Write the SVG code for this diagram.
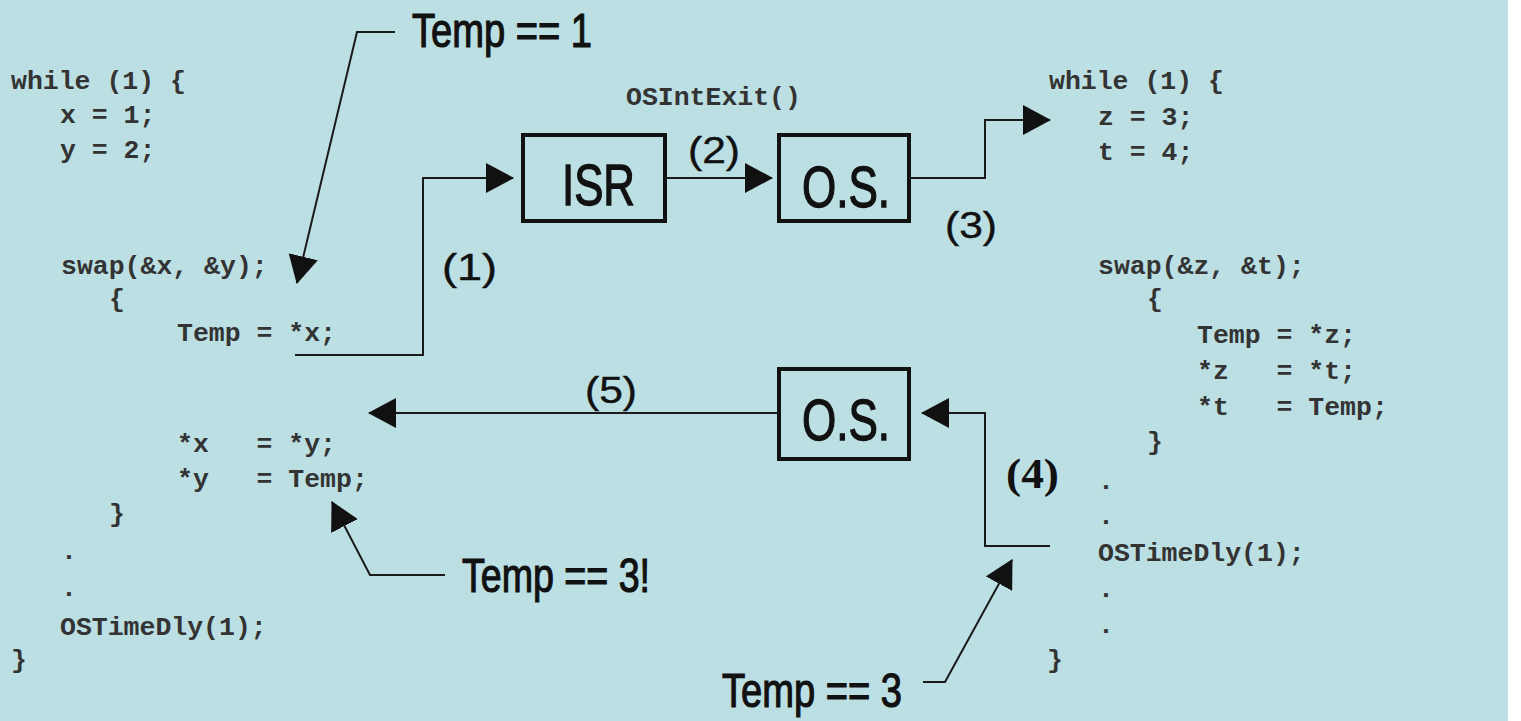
<svg xmlns="http://www.w3.org/2000/svg" width="1521" height="721" viewBox="0 0 1521 721" xml:space="preserve">
<style>
.code{font-family:"Liberation Mono","Courier New",monospace;font-size:26.5px;font-weight:bold;fill:#333333;white-space:pre}
.big{font-family:"Liberation Sans",Arial,sans-serif;font-size:48px;fill:#111;stroke:#111;stroke-width:1.2}
.box{fill:none;stroke:#111;stroke-width:4}
.lbl{font-family:"Liberation Sans",Arial,sans-serif;font-size:58px;fill:#111;stroke:#111;stroke-width:1.4}
.num{font-family:"Liberation Sans",Arial,sans-serif;font-size:37px;fill:#111;stroke:#111;stroke-width:0.4}
.conn{fill:none;stroke:#1a1a1a;stroke-width:2}
</style>
<defs>
<marker id="ah" viewBox="0 0 28 30" refX="27" refY="15" markerWidth="28" markerHeight="30" markerUnits="userSpaceOnUse" orient="auto">
<path d="M0,0 L28,15 L0,30 Z" fill="#111"/>
</marker>
</defs>
<rect x="0" y="0" width="1521" height="721" fill="#ffffff"/>
<rect x="0" y="0" width="1508" height="721" fill="#bbdfe3"/>

<g id="code-left">
<text class="code" x="11" y="89">while (1) {</text>
<text class="code" x="60" y="123">x = 1;</text>
<text class="code" x="60" y="158">y = 2;</text>
<text class="code" x="61" y="274">swap(&amp;x, &amp;y);</text>
<text class="code" x="109" y="307">{</text>
<text class="code" x="177" y="341">Temp = *x;</text>
<text class="code" x="177" y="452">*x   = *y;</text>
<text class="code" x="177" y="487">*y   = Temp;</text>
<text class="code" x="109" y="522">}</text>
<text class="code" x="61" y="559">.</text>
<text class="code" x="61" y="596">.</text>
<text class="code" x="60" y="635">OSTimeDly(1);</text>
<text class="code" x="11" y="668">}</text>
</g>

<g id="code-right">
<text class="code" x="1049" y="89">while (1) {</text>
<text class="code" x="1098" y="125">z = 3;</text>
<text class="code" x="1098" y="160">t = 4;</text>
<text class="code" x="1098" y="274">swap(&amp;z, &amp;t);</text>
<text class="code" x="1147" y="307">{</text>
<text class="code" x="1197" y="343">Temp = *z;</text>
<text class="code" x="1197" y="379">*z   = *t;</text>
<text class="code" x="1197" y="415">*t   = Temp;</text>
<text class="code" x="1147" y="450">}</text>
<text class="code" x="1098" y="489">.</text>
<text class="code" x="1098" y="524">.</text>
<text class="code" x="1098" y="561">OSTimeDly(1);</text>
<text class="code" x="1098" y="597">.</text>
<text class="code" x="1098" y="633">.</text>
<text class="code" x="1047" y="668">}</text>
</g>

<g id="isr">
<rect class="box" x="523" y="135" width="142" height="86"/>
<text class="lbl" x="562" y="205" textLength="73" lengthAdjust="spacingAndGlyphs">ISR</text>
</g>

<g id="os-top">
<rect class="box" x="779" y="135" width="130" height="86"/>
<text class="lbl" x="802" y="207" textLength="88" lengthAdjust="spacingAndGlyphs">O.S.</text>
</g>

<g id="os-bottom">
<rect class="box" x="779" y="369" width="130" height="90"/>
<text class="lbl" x="802" y="440" textLength="88" lengthAdjust="spacingAndGlyphs">O.S.</text>
</g>

<g id="note-temp1">
<text class="big" x="412" y="47" textLength="180" lengthAdjust="spacingAndGlyphs">Temp == 1</text>
</g>
<g id="note-temp3x">
<text class="big" x="462" y="592" textLength="188" lengthAdjust="spacingAndGlyphs">Temp == 3!</text>
</g>
<g id="note-temp3">
<text class="big" x="722" y="707" textLength="180" lengthAdjust="spacingAndGlyphs">Temp == 3</text>
</g>
<g id="note-osintexit">
<text class="code" x="626" y="105">OSIntExit()</text>
</g>

<g id="connectors">
<polyline class="conn" points="295,355 423,355 423,178 513,178" marker-end="url(#ah)"/>
<line class="conn" x1="665" y1="178" x2="772" y2="178" marker-end="url(#ah)"/>
<polyline class="conn" points="909,178 985,178 985,120 1050,120" marker-end="url(#ah)"/>
<polyline class="conn" points="1050,546 985,546 985,413 922,413" marker-end="url(#ah)"/>
<line class="conn" x1="779" y1="413" x2="369" y2="413" marker-end="url(#ah)"/>
<polyline class="conn" points="395,32 357,32 297,283" marker-end="url(#ah)"/>
<polyline class="conn" points="445,575 370,575 332,502" marker-end="url(#ah)"/>
<polyline class="conn" points="923,682 945,682 1012,560" marker-end="url(#ah)"/>
<text class="num" x="442" y="280" textLength="55" lengthAdjust="spacingAndGlyphs">(1)</text>
<text class="num" x="688" y="163" textLength="52" lengthAdjust="spacingAndGlyphs">(2)</text>
<text class="num" x="945" y="238" textLength="52" lengthAdjust="spacingAndGlyphs">(3)</text>
<text x="1006" y="488" font-family="'Liberation Serif','Times New Roman',serif" font-weight="bold" font-size="42" fill="#111" textLength="53" lengthAdjust="spacingAndGlyphs">(4)</text>
<text class="num" x="585" y="403" textLength="52" lengthAdjust="spacingAndGlyphs">(5)</text>
</g>
</svg>
